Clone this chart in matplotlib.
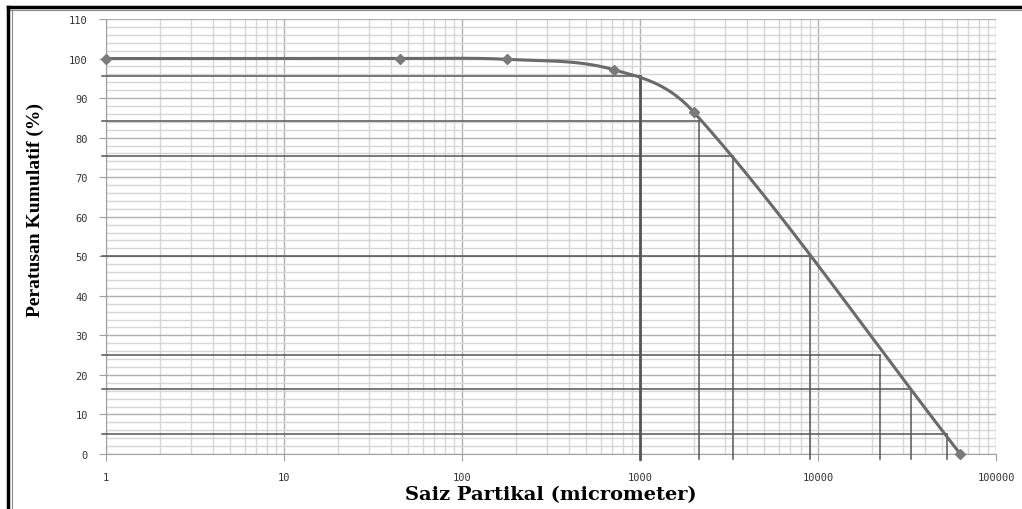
import numpy as np
import matplotlib
matplotlib.use("Agg")
import matplotlib.pyplot as plt
from matplotlib.lines import Line2D
from matplotlib.ticker import FixedLocator, NullFormatter

# sieve data (micrometer, cumulative % passing)
saiz = [1, 45, 180, 710, 2000, 63000]
peratus = [100, 100, 99.8, 97.2, 86.5, 0]

# reading lines drawn on the chart: (percent level, size where it drops down)
garis_y = [95.5, 84.3, 75.3, 50, 25, 16.5, 5]
garis_x = [1000, 2150, 3350, 9000, 22300, 33300, 53000]

y_ticks = list(range(0, 111, 10))
x_ticks = [1, 10, 100, 1000, 10000, 100000]
x_labels = ["1", "10", "100", "1000", "10000", "100000"]


def smooth(xs, ys, n=60):
    # smoothed line through the points (hermite, in log-x space)
    lx = np.log10(xs)
    y = np.asarray(ys, float)
    h = np.diff(lx)
    d = np.diff(y) / h
    m = np.zeros(len(y))
    for i in range(1, len(y) - 1):
        m[i] = (h[i-1]*d[i-1] + h[i]*d[i]) / (h[i-1] + h[i])
    m[0] = 0
    m[-1] = d[-1]
    px, py = [], []
    for i in range(len(h)):
        t = np.linspace(0, 1, n)
        h00 = 2*t**3 - 3*t**2 + 1
        h10 = t**3 - 2*t**2 + t
        h01 = -2*t**3 + 3*t**2
        h11 = t**3 - t**2
        px.append(lx[i] + t*h[i])
        py.append(h00*y[i] + h10*h[i]*m[i] + h01*y[i+1] + h11*h[i]*m[i+1])
    return 10**np.concatenate(px), np.concatenate(py)


fig = plt.figure(figsize=(10.22, 5.10), dpi=100)
ax = fig.add_axes([0.1037, 0.1078, 0.8709, 0.853])

ax.set_xscale("log")
ax.set_xlim(1, 100000)
ax.set_ylim(0, 110)

ax.yaxis.set_major_locator(FixedLocator(y_ticks))
ax.yaxis.set_minor_locator(FixedLocator(np.arange(0, 111, 2)))
ax.set_xticks(x_ticks)
ax.set_xticklabels(x_labels)
ax.xaxis.set_minor_formatter(NullFormatter())

ax.grid(which="minor", color="#d6d6d6", lw=1.0)
ax.grid(which="major", color="#b0b0b0", lw=1.0)
ax.set_axisbelow(True)

for s in ["top", "right"]:
    ax.spines[s].set_visible(False)
for s in ["left", "bottom"]:
    ax.spines[s].set_color("#a0a0a0")
ax.tick_params(which="major", length=5, color="#a0a0a0", labelsize=7.5,
               labelcolor="#333333")
ax.tick_params(which="minor", length=0)
ax.tick_params(axis="x", pad=8)
ax.tick_params(axis="y", pad=8)
for lab in ax.get_xticklabels() + ax.get_yticklabels():
    lab.set_family("DejaVu Sans Mono")

# reading lines
for yv, xv in zip(garis_y, garis_x):
    lw = 2.0 if xv == 1000 else 1.1
    ax.plot([0.95, xv], [yv, yv], color="#555555", lw=1.1, clip_on=False, zorder=3)
    ax.plot([xv, xv], [-1.3, yv], color="#555555", lw=lw, clip_on=False, zorder=3)

sx, sy = smooth(saiz, peratus)
ax.plot(sx, sy, color="#6a6a6a", lw=2.2, zorder=4)
ax.plot(saiz, peratus, ls="none", marker="D", ms=5, color="#7a7a7a", zorder=5,
        clip_on=False)

ax.set_xlabel("Saiz Partikal (micrometer)", family="DejaVu Serif",
              fontweight="bold", fontsize=14, labelpad=2)
ax.set_ylabel("Peratusan Kumulatif (%)", family="Liberation Serif",
              fontweight="bold", fontsize=14)
ax.yaxis.set_label_coords(-0.07, 0.563)

# picture frame
fig.add_artist(Line2D([0.008, 1], [0.984, 0.984], transform=fig.transFigure,
                      color="black", lw=2.5))
fig.add_artist(Line2D([0.008, 1], [0.978, 0.978], transform=fig.transFigure,
                      color="#888888", lw=0.8))
fig.add_artist(Line2D([0.008, 0.008], [0, 0.985], transform=fig.transFigure,
                      color="black", lw=2.5))
fig.add_artist(Line2D([0.012, 0.012], [0, 0.978], transform=fig.transFigure,
                      color="#888888", lw=0.8))

fig.savefig("out.png", dpi=100)
